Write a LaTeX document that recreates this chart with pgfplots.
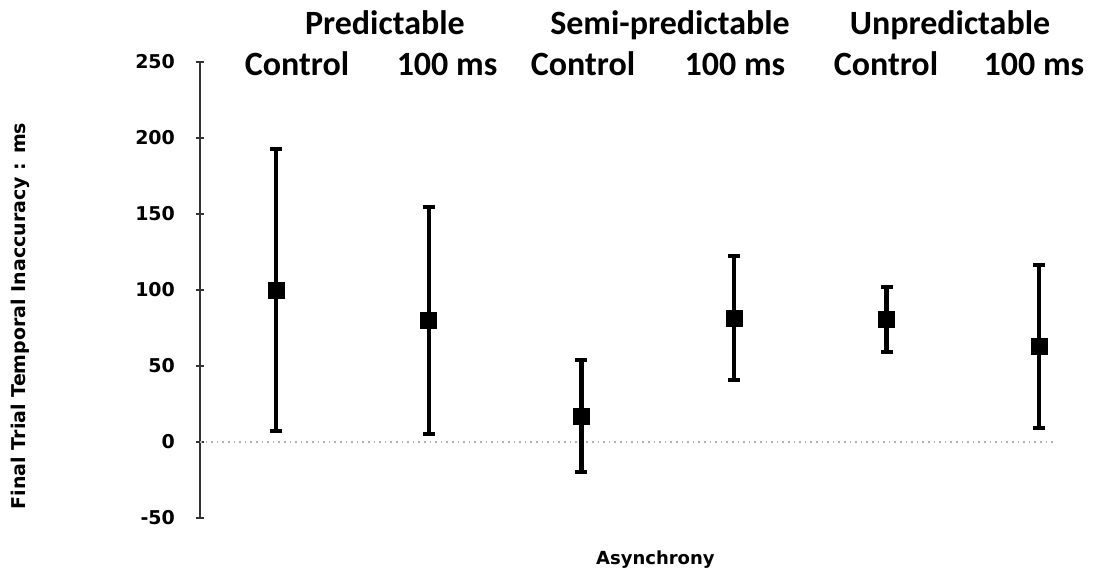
\documentclass[border=0pt]{standalone}
\usepackage{fontspec}
\setmainfont{Carlito}
\newfontfamily\dejavu{DejaVu Sans}
\usepackage{pgfplots}
\pgfplotsset{compat=1.18}
\begin{document}
\begin{tikzpicture}
\begin{axis}[
  scale only axis, width=446.5pt, height=228pt,
  xmin=0.5, xmax=6.352, ymin=-50, ymax=250,
  axis y line*=left, axis x line*=bottom,
  x axis line style={draw=none}, xtick=\empty,
  y axis line style={black!80, line width=0.7pt},
  ytick={-50,0,50,100,150,200,250},
  ytick style={black!80, line width=0.7pt},
  major tick length=4pt, tick align=center,
  /pgf/number format/assume math mode=true,
  yticklabel style={font=\dejavu\bfseries\fontsize{9.5}{11}\selectfont, xshift=-7pt},
  ylabel={Final Trial Temporal Inaccuracy : ms},
  ylabel style={font=\dejavu\bfseries\fontsize{9.5}{11}\selectfont, at={(axis description cs:-0.2016,0.443)}, anchor=center},
  xlabel={Asynchrony},
  xlabel style={font=\dejavu\bfseries\fontsize{9}{11}\selectfont, at={(axis description cs:0.51,-0.103)}, anchor=base},
  clip=false,
]
\addplot[black!30, dotted, line width=0.8pt] coordinates {(0.5,0) (6.1,0)};
\addplot[only marks, mark=square*, mark size=4pt, black,
  mark options={rounded corners=1pt},
  error bars/.cd, y dir=both, y explicit,
  error bar style={line width=2.2pt, black},
  error mark=|, error mark options={line width=2pt, mark size=3pt, black}]
  coordinates {
  (1,100) +- (0,93)
  (2,80) +- (0,74.5)
  (3,17) +- (0,37)
  (4,81.5) +- (0,41)
  (5,80.5) +- (0,21.5)
  (6,63) +- (0,53.5)
};
\begin{scope}[every node/.style={font=\fontsize{17}{20}\selectfont\bfseries, anchor=base, inner sep=0pt}]
\node at (axis cs:1.712,267.8) {Predictable};
\node at (axis cs:3.58,267.8) {Semi-predictable};
\node at (axis cs:5.415,267.8) {Unpredictable};
\node at (axis cs:1.136,241.4) {Control};
\node at (axis cs:2.119,241.4) {100 ms};
\node at (axis cs:3.01,241.4) {Control};
\node at (axis cs:4.006,241.4) {100 ms};
\node at (axis cs:4.995,241.4) {Control};
\node at (axis cs:5.965,241.4) {100 ms};
\end{scope}
\end{axis}
\pgfresetboundingbox
\path[use as bounding box] (-100pt,-29pt) rectangle (446.5pt,259pt);
\end{tikzpicture}
\end{document}
